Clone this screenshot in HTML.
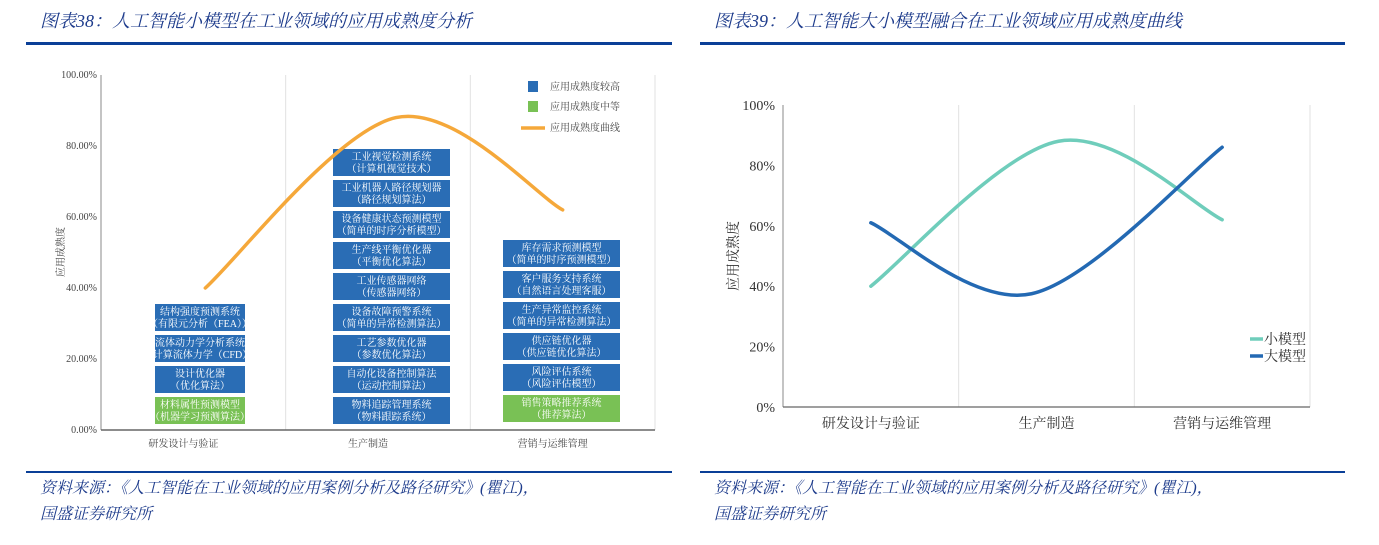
<!DOCTYPE html>
<html><head><meta charset="utf-8">
<style>
body{margin:0;width:1379px;height:545px;background:#fff;overflow:hidden;font-family:"Liberation Serif","Noto Serif CJK SC",serif;}
svg{position:absolute;left:0;top:0}
.t{font-style:italic;fill:#1e3c8c;font-size:18px}
.f{font-style:italic;fill:#1e3c8c;font-size:16px}
.ax{fill:#444;font-size:10px}
.ax2{fill:#333;font-size:14px}
.bx{fill:#fff;font-size:10px}
</style></head><body>
<svg id="s" width="1379" height="545" xmlns="http://www.w3.org/2000/svg">
<text class="t" x="40" y="27">图表38：人工智能小模型在工业领域的应用成熟度分析</text>
<rect x="26" y="42" width="646" height="3" fill="#0a3f97"/>
<text class="t" x="714" y="27">图表39：人工智能大小模型融合在工业领域应用成熟度曲线</text>
<rect x="700" y="42" width="645" height="3" fill="#0a3f97"/>
<rect x="26" y="471" width="646" height="2" fill="#0a3f97"/>
<rect x="700" y="471" width="645" height="2" fill="#0a3f97"/>
<text class="f" x="40" y="493">资料来源：《人工智能在工业领域的应用案例分析及路径研究》(瞿江)，</text>
<text class="f" x="40" y="519">国盛证券研究所</text>
<text class="f" x="714" y="493">资料来源：《人工智能在工业领域的应用案例分析及路径研究》(瞿江)，</text>
<text class="f" x="714" y="519">国盛证券研究所</text>
<g id="L"></g><g id="R"></g>
</svg>
<script>
const leftCats=["研发设计与验证","生产制造","营销与运维管理"];
const leftTicks=[0,20,40,60,80,100];
const leftCurve=[40,88,62];
const col1Boxes=[["结构强度预测系统","（有限元分析（FEA））","h"],["流体动力学分析系统","（计算流体力学（CFD））","h"],["设计优化器","（优化算法）","h"],["材料属性预测模型","（机器学习预测算法）","m"]];
const col2Boxes=[["工业视觉检测系统","（计算机视觉技术）","h"],["工业机器人路径规划器","（路径规划算法）","h"],["设备健康状态预测模型","（简单的时序分析模型）","h"],["生产线平衡优化器","（平衡优化算法）","h"],["工业传感器网络","（传感器网络）","h"],["设备故障预警系统","（简单的异常检测算法）","h"],["工艺参数优化器","（参数优化算法）","h"],["自动化设备控制算法","（运动控制算法）","h"],["物料追踪管理系统","（物料跟踪系统）","h"]];
const col3Boxes=[["库存需求预测模型","（简单的时序预测模型）","h"],["客户服务支持系统","（自然语言处理客服）","h"],["生产异常监控系统","（简单的异常检测算法）","h"],["供应链优化器","（供应链优化算法）","h"],["风险评估系统","（风险评估模型）","h"],["销售策略推荐系统","（推荐算法）","m"]];
const rightCats=["研发设计与验证","生产制造","营销与运维管理"];
const rightTicks=[0,20,40,60,80,100];
const smallModel=[40,88,62];
const largeModel=[61,37.5,86];

const NS="http://www.w3.org/2000/svg";
function el(p,tag,a,txt){const e=document.createElementNS(NS,tag);for(const k in a)e.setAttribute(k,a[k]);if(txt!==undefined)e.textContent=txt;p.appendChild(e);return e;}
function smooth(pts){let d="M"+pts[0][0]+","+pts[0][1];for(let i=0;i<pts.length-1;i++){const p0=pts[i-1]||pts[i],p1=pts[i],p2=pts[i+1],p3=pts[i+2]||p2;const c1=[p1[0]+(p2[0]-p0[0])/6,p1[1]+(p2[1]-p0[1])/6],c2=[p2[0]-(p3[0]-p1[0])/6,p2[1]-(p3[1]-p1[1])/6];d+=" C"+c1+" "+c2+" "+p2;}return d;}

// LEFT
const L=document.getElementById("L");
const lx0=101,lx1=655,ly0=430,ly1=75;
const ly=v=>ly0-(ly0-ly1)*v/100;
const lband=(lx1-lx0)/leftCats.length;
const lxc=i=>lx0+lband*(i+0.5);
for(let i=1;i<=leftCats.length;i++){const g=el(L,"line",{x1:lx0+lband*i,x2:lx0+lband*i,y1:ly1,y2:ly0,stroke:"#e2e2e2"});}
let a=el(L,"line",{x1:lx0,x2:lx0,y1:ly1,y2:ly0,stroke:"#888"});
a=el(L,"line",{x1:lx0,x2:lx1,y1:ly0,y2:ly0,stroke:"#666","stroke-width":1.5});
leftTicks.forEach(v=>{const t=el(L,"text",{class:"ax",x:lx0-4,y:ly(v)+3,"text-anchor":"end"},v.toFixed(2)+"%");});
leftCats.forEach((c,i)=>{const t=el(L,"text",{class:"ax",x:lxc(i)-10,y:447,"text-anchor":"middle"},c);});
a=el(L,"text",{class:"ax",transform:"translate(64,252) rotate(-90)","text-anchor":"middle"},"应用成熟度");
const cols=[{b:col1Boxes,x:155,w:90},{b:col2Boxes,x:333,w:117},{b:col3Boxes,x:503,w:117}];
cols.forEach(c=>{const n=c.b.length;c.b.forEach((bx,j)=>{const top=397-(n-1-j)*31+(c.x===503?-2:0);const g=el(L,"g",{});
el(g,"rect",{x:c.x,y:top,width:c.w,height:27,fill:bx[2]==="h"?"#2a6db5":"#79c155"});
el(g,"text",{class:"bx",x:c.x+c.w/2,y:top+11,"text-anchor":"middle"},bx[0]);
el(g,"text",{class:"bx",x:c.x+c.w/2,y:top+23,"text-anchor":"middle"},bx[1]);});});
a=el(L,"path",{d:smooth(leftCurve.map((v,i)=>[lxc(i)+(i===0?12:i===1?18:0),ly(v)])),fill:"none",stroke:"#f5a83a","stroke-width":3.5,"stroke-linecap":"round"});
[["#2a6db5","应用成熟度较高",87],["#79c155","应用成熟度中等",107]].forEach(l=>{const g=el(L,"g",{});el(g,"rect",{x:528,y:l[2]-6,width:10,height:11,fill:l[0]});el(g,"text",{class:"ax",x:550,y:l[2]+3},l[1]);});
a=el(L,"g",{});el(a,"line",{x1:521,x2:545,y1:128,y2:128,stroke:"#f5a83a","stroke-width":3.5});el(a,"text",{class:"ax",x:550,y:131},"应用成熟度曲线");

// RIGHT
const R=document.getElementById("R");
const rx0=783,rx1=1310,ry0=407,ry1=105;
const ry=v=>ry0-(ry0-ry1)*v/100;
const rband=(rx1-rx0)/rightCats.length;
const rxc=i=>rx0+rband*(i+0.5);
for(let i=1;i<=rightCats.length;i++){const g=el(R,"line",{x1:rx0+rband*i,x2:rx0+rband*i,y1:ry1,y2:ry0,stroke:"#e2e2e2"});}
a=el(R,"line",{x1:rx0,x2:rx0,y1:ry1,y2:ry0,stroke:"#888"});
a=el(R,"line",{x1:rx0,x2:rx1,y1:ry0,y2:ry0,stroke:"#666","stroke-width":1.2});
rightTicks.forEach(v=>{const t=el(R,"text",{class:"ax2",x:rx0-8,y:ry(v)+5,"text-anchor":"end"},v+"%");});
rightCats.forEach((c,i)=>{const t=el(R,"text",{class:"ax2",x:rxc(i),y:428,"text-anchor":"middle"},c);});
a=el(R,"text",{class:"ax2",transform:"translate(738,256) rotate(-90)","text-anchor":"middle"},"应用成熟度");
a=el(R,"path",{d:smooth(smallModel.map((v,i)=>[rxc(i)+(i===1?12:0),ry(v)])),fill:"none",stroke:"#6fcdbb","stroke-width":3.5,"stroke-linecap":"round"});
a=el(R,"path",{d:smooth(largeModel.map((v,i)=>[rxc(i)+(i===1?-15:0),ry(v)])),fill:"none",stroke:"#2369b3","stroke-width":3.5,"stroke-linecap":"round"});
[["#6fcdbb","小模型",339],["#2369b3","大模型",356]].forEach(l=>{const g=el(R,"g",{});el(g,"line",{x1:1250,x2:1263,y1:l[2],y2:l[2],stroke:l[0],"stroke-width":3.5});el(g,"text",{class:"ax2",x:1264,y:l[2]+5},l[1]);});
</script>
</body></html>
